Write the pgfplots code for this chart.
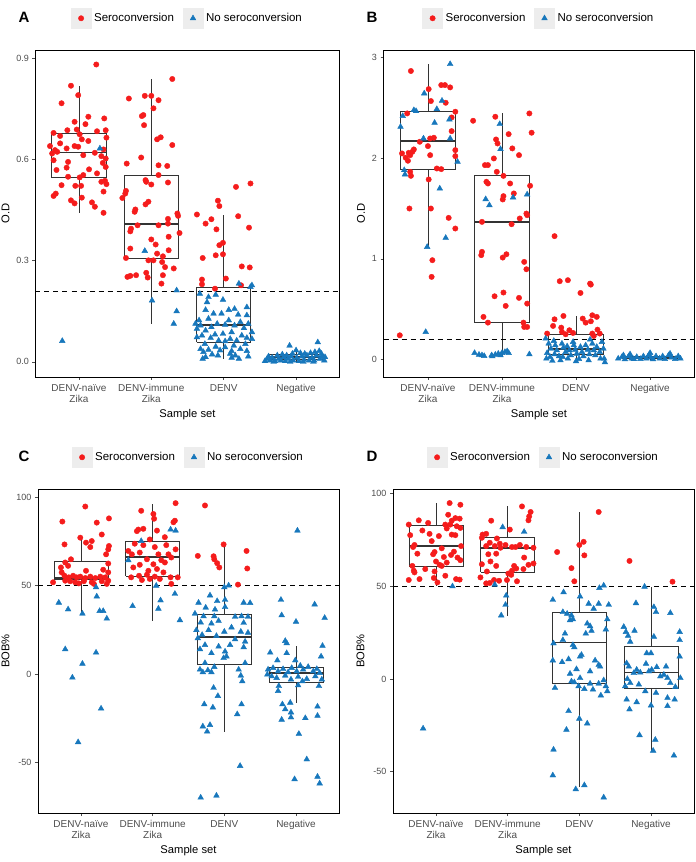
\documentclass[border=0pt]{standalone}
\usepackage{fontspec}
\setmainfont{Liberation Sans}
\usepackage{pgfplots}
\pgfplotsset{compat=1.18}
\definecolor{myred}{HTML}{F51C1C}
\definecolor{myblue}{HTML}{1777BC}
\definecolor{boxgray}{HTML}{333333}
\definecolor{legkey}{HTML}{EDEDED}
\definecolor{tickgray}{HTML}{4D4D4D}
% box: left, centre, right, lower whisker, Q1, median, Q3, upper whisker
\newcommand{\bx}[8]{%
\addplot[forget plot, boxgray, line width=0.7pt, mark=none, line join=miter] coordinates {(#1,#5)(#3,#5)(#3,#7)(#1,#7)(#1,#5)};
\addplot[forget plot, boxgray, line width=1.9pt, mark=none] coordinates {(#1,#6)(#3,#6)};
\addplot[forget plot, boxgray, line width=0.7pt, mark=none] coordinates {(#2,#7)(#2,#8)};
\addplot[forget plot, boxgray, line width=0.7pt, mark=none] coordinates {(#2,#5)(#2,#4)};
}
\pgfplotsset{
 panel/.style={scale only axis, xmin=0.4, xmax=4.6, xtick={1,2,3,4},
  xticklabels={{DENV-naïve\\Zika},{DENV-immune\\Zika},{DENV},{Negative}},
  x tick label style={align=center, font=\fontsize{10}{11}\selectfont, text=tickgray, yshift=-1pt},
  y tick label style={font=\fontsize{9}{10}\selectfont, text=tickgray},
  /pgf/number format/assume math mode=true,
  tick style={tickgray, line width=0.5pt}, tick align=outside, tickpos=left,
  major tick length=3pt, axis line style={black, line width=0.6pt},
  xlabel={Sample set}, label style={font=\fontsize{11.2}{12}\selectfont},
  legend columns=2,
  legend style={at={(0.5,1)}, anchor=south, yshift=19pt, draw=none, fill=none,
    font=\fontsize{11.5}{13}\selectfont, nodes={inner sep=2.5pt},
    /tikz/every even column/.append style={column sep=6pt}},
  legend image code/.code={
    \fill[legkey, draw=none] (-0.5pt,-10.5pt) rectangle (20.5pt,10.5pt);
    \draw[mark repeat=2,mark phase=2] plot coordinates {(0pt,0pt) (10pt,0pt) (20pt,0pt)};},
 },
 redpts/.style={only marks, mark=*, color=myred, mark size=2.7pt, mark options={draw=none, fill=myred}},
 bluepts/.style={only marks, mark=triangle*, color=myblue, mark size=3.3pt, mark options={draw=none, fill=myblue}},
}
\begin{document}
\begin{tikzpicture}
\useasboundingbox (0,0) rectangle (696pt,862pt);
\node[font=\bfseries\fontsize{15}{16}\selectfont] at (24pt,845pt) {A};
\node[font=\bfseries\fontsize{15}{16}\selectfont] at (372pt,845pt) {B};
\node[font=\bfseries\fontsize{15}{16}\selectfont] at (24pt,406pt) {C};
\node[font=\bfseries\fontsize{15}{16}\selectfont] at (372pt,406pt) {D};
% ---------------- Panel A ----------------
\begin{axis}[panel, at={(35.5pt,485pt)}, anchor=south west, width=304pt, height=327pt,
  ymin=-0.045, ymax=0.925, ytick={0,0.3,0.6,0.9}, yticklabels={0.0,0.3,0.6,0.9}, ylabel={O.D}]
\addplot[redpts] coordinates {
(1.24,0.882)(0.89,0.819)(0.99,0.791)(0.76,0.767)(1.13,0.727)(1.35,0.722)(0.94,0.712)(1.09,0.705)(0.84,0.687)(0.97,0.689)
(0.65,0.679)(1.25,0.684)(1.37,0.687)(1.38,0.665)(0.74,0.670)(1.01,0.675)(1.04,0.660)(0.74,0.648)(1.13,0.655)(0.60,0.640)
(0.94,0.640)(0.99,0.638)(0.83,0.633)(0.67,0.628)(1.34,0.630)(0.63,0.618)(0.70,0.623)(1.06,0.613)(1.22,0.620)(1.31,0.610)
(0.65,0.598)(1.37,0.603)(0.85,0.593)(1.33,0.590)(0.83,0.576)(0.69,0.569)(1.37,0.578)(1.14,0.571)(1.25,0.559)(1.06,0.554)
(0.85,0.549)(1.01,0.547)(1.36,0.537)(1.31,0.534)(1.38,0.527)(0.76,0.524)(0.95,0.522)(1.03,0.522)(0.68,0.499)(0.65,0.492)
(1.34,0.505)(1.04,0.487)(0.89,0.479)(0.94,0.470)(1.18,0.473)(1.22,0.460)(1.34,0.442)
(2.29,0.839)(1.69,0.781)(1.91,0.789)(2.00,0.789)(2.10,0.776)(2.03,0.752)(1.87,0.729)(1.89,0.732)(1.90,0.702)(2.13,0.666)
(2.08,0.660)(2.29,0.643)(1.86,0.606)(1.66,0.588)(2.10,0.583)(2.22,0.581)(2.10,0.554)(1.92,0.539)(1.93,0.534)(2.00,0.526)
(2.23,0.532)(1.65,0.507)(1.64,0.499)(1.60,0.486)(1.96,0.475)(1.92,0.467)(1.78,0.452)(1.77,0.445)(2.36,0.440)(2.37,0.433)
(2.23,0.424)(1.81,0.405)(2.10,0.405)(2.23,0.410)(1.72,0.395)(1.71,0.387)(2.39,0.382)(2.24,0.371)(2.00,0.363)(2.06,0.348)
(1.71,0.336)(2.24,0.331)(2.08,0.321)(1.65,0.308)(1.96,0.301)(2.03,0.301)(2.16,0.313)(2.15,0.296)(2.19,0.281)(2.31,0.277)
(1.93,0.264)(1.67,0.252)(1.71,0.255)(1.79,0.257)(1.95,0.250)(2.16,0.257)(2.14,0.232)
(3.37,0.529)(3.17,0.519)(2.92,0.478)(2.94,0.462)(2.63,0.437)(3.20,0.432)(2.83,0.423)(2.75,0.410)(3.35,0.398)(2.90,0.393)
(2.99,0.353)(2.94,0.346)(2.89,0.316)(2.99,0.319)(2.71,0.308)(3.25,0.283)(3.36,0.280)(3.03,0.247)(2.70,0.244)(2.70,0.230)
(2.88,0.217)(3.24,0.227)
};
\addlegendentry{Seroconversion}
\addplot[bluepts] coordinates {
(1.29,0.633)(0.77,0.062)
(1.91,0.329)(2.01,0.182)(2.35,0.212)(2.35,0.150)(2.31,0.113)
(3.21,0.232)(3.39,0.227)(3.37,0.222)(2.67,0.202)(2.89,0.199)(2.79,0.192)(2.99,0.184)(2.77,0.177)(3.32,0.162)(3.15,0.157)
(2.75,0.154)(3.07,0.154)(2.86,0.143)(2.97,0.143)(3.20,0.140)(3.32,0.138)(2.79,0.128)(2.66,0.123)(2.61,0.113)(3.07,0.123)
(3.23,0.118)(3.34,0.113)(2.68,0.108)(2.91,0.113)(3.02,0.110)(3.15,0.108)(2.63,0.098)(2.83,0.103)(3.28,0.100)(2.75,0.093)
(3.39,0.088)(2.99,0.083)(3.11,0.088)(2.88,0.081)(2.70,0.078)(3.25,0.078)(3.32,0.071)(3.09,0.068)(2.63,0.073)(2.82,0.071)
(3.39,0.068)(2.93,0.063)(3.02,0.061)(3.18,0.063)(2.74,0.053)(3.14,0.048)(3.30,0.053)(2.89,0.045)(3.02,0.043)(2.68,0.038)
(2.79,0.036)(3.23,0.038)(2.95,0.034)(3.11,0.032)(2.72,0.029)(3.32,0.032)(3.09,0.024)(2.84,0.022)(3.16,0.019)(2.75,0.014)
(2.92,0.019)(3.34,0.016)(2.71,0.009)(3.11,0.012)(3.21,0.009)
(3.60,0.009)(3.64,0.004)(3.67,0.012)(3.71,0.002)(3.76,0.009)(3.79,0.004)(3.83,0.014)(3.85,0.002)(3.89,0.009)(3.91,0.048)
(3.93,0.016)(3.96,0.004)(4.00,0.034)(4.01,0.012)(4.04,0.002)(4.08,0.016)(4.11,0.006)(4.15,0.019)(4.18,0.004)(4.22,0.012)
(4.25,0.004)(4.28,0.019)(4.30,0.058)(4.32,0.032)(4.33,0.009)(4.36,0.016)(4.39,0.004)(3.62,0.016)(3.74,0.019)(3.81,0.022)
(3.87,0.019)(3.95,0.024)(4.06,0.026)(4.12,0.024)(4.20,0.026)(4.26,0.029)(4.35,0.024)(3.69,0.000)(3.92,0.000)(4.10,0.000)
(4.24,0.000)(3.57,0.002)(4.40,0.014)
};
\addlegendentry{No seroconversion}
\bx{0.625}{1}{1.375}{0.442}{0.546}{0.621}{0.677}{0.818}
\bx{1.625}{2}{2.375}{0.113}{0.308}{0.410}{0.554}{0.839}
\bx{2.625}{3}{3.375}{0.009}{0.059}{0.108}{0.220}{0.437}
\bx{3.625}{4}{4.375}{0.000}{0.008}{0.014}{0.022}{0.040}
\addplot[forget plot, black, line width=0.7pt, dash pattern=on 5pt off 4pt] coordinates {(0.4,0.21) (4.6,0.21)};
\end{axis}
% ---------------- Panel B ----------------
\begin{axis}[panel, at={(383.5pt,485pt)}, anchor=south west, width=311pt, height=327pt,
  ymin=-0.176, ymax=3.077, ytick={0,1,2,3}, yticklabels={0,1,2,3}, ylabel={O.D}]
\addplot[redpts] coordinates {
(0.77,2.868)(1.18,2.728)(1.23,2.728)(1.30,2.705)(1.01,2.688)(1.04,2.569)(1.24,2.552)(0.72,2.446)(1.37,2.463)(1.32,2.406)
(1.32,2.270)(1.03,2.197)(1.08,2.204)(0.89,2.164)(1.00,2.121)(1.37,2.081)(0.81,2.088)(0.79,2.064)(0.74,2.054)(0.65,2.048)
(0.76,2.031)(1.03,2.031)(1.37,2.021)(0.70,2.005)(0.73,1.975)(1.12,1.898)(1.18,1.892)(0.76,1.865)(0.77,1.825)(1.01,1.789)
(0.75,1.500)(1.04,1.500)(1.28,1.407)(1.37,1.301)(1.06,0.986)(1.05,0.820)(0.62,0.239)
(1.61,2.373)(1.91,2.413)(2.37,2.446)(2.40,2.254)(2.09,2.240)(1.92,2.187)(1.94,2.147)(2.14,2.098)(2.23,2.031)(1.89,1.998)
(1.77,1.932)(1.81,1.932)(1.93,1.865)(2.02,1.825)(1.79,1.766)(1.81,1.749)(2.11,1.749)(2.38,1.726)(2.16,1.650)(2.02,1.623)
(2.01,1.590)(2.33,1.450)(2.34,1.434)(2.24,1.401)(1.73,1.367)(2.13,1.344)(1.73,1.069)(1.72,1.036)(2.06,1.045)(2.01,1.012)
(2.30,0.969)(2.33,0.896)(1.90,0.627)(2.02,0.664)(2.23,0.611)(2.05,0.531)(2.34,0.554)(1.75,0.422)(1.81,0.365)(2.29,0.365)
(2.30,0.322)(2.34,0.322)
(2.71,1.225)(2.78,0.777)(2.89,0.787)(3.19,0.753)(3.20,0.743)(3.06,0.660)(2.83,0.431)(3.22,0.438)(3.28,0.422)(2.71,0.398)
(3.09,0.405)(3.20,0.378)(3.13,0.365)(2.69,0.332)(2.80,0.315)(3.29,0.295)(2.91,0.289)(2.81,0.272)(2.61,0.256)(2.96,0.262)
(2.86,0.249)(3.22,0.256)(3.32,0.256)(3.24,0.232)
};
\addlegendentry{Seroconversion}
\addplot[bluepts] coordinates {
(1.30,2.937)(0.95,2.645)(1.19,2.572)(0.81,2.479)(0.84,2.469)(0.66,2.420)(0.63,2.313)(1.12,2.489)(1.09,2.353)(1.29,2.386)
(0.94,2.197)(1.30,2.197)(1.40,1.965)(0.68,1.882)(0.69,1.839)(1.16,1.699)(1.24,1.208)(0.99,1.118)(0.97,0.272)
(1.97,2.340)(1.98,2.091)(1.78,1.593)(1.83,1.533)(2.15,1.610)(2.34,1.640)
(1.63,0.063)(1.69,0.046)(1.76,0.033)(1.86,0.040)(1.91,0.046)(1.95,0.056)(2.00,0.063)(2.04,0.073)(2.07,0.080)(2.09,0.063)
(2.37,0.050)(1.87,0.030)(1.73,0.040)(1.98,0.040)
(2.59,0.206)(2.63,0.156)(2.66,0.106)(2.61,0.063)(2.65,0.023)(2.60,0.007)(2.72,0.139)(2.74,0.090)(2.71,0.050)(2.77,0.030)
(2.81,0.156)(2.83,0.116)(2.86,0.073)(2.82,0.023)(2.88,0.129)(2.91,0.090)(2.93,0.040)(2.89,0.007)(2.97,0.139)(2.99,0.096)
(3.01,0.056)(3.04,0.003)(3.06,0.123)(3.08,0.073)(3.10,0.030)(3.13,0.139)(3.16,0.096)(3.18,0.050)(3.22,0.156)(3.24,0.090)
(3.26,0.040)(3.28,0.123)(3.32,0.073)(3.35,0.173)(3.37,0.106)(3.38,0.007)(3.39,-0.030)(3.33,0.007)(3.17,-0.010)(3.00,-0.020)
(2.79,-0.010)(2.68,-0.015)(2.96,0.173)(2.70,0.183)(3.19,0.196)
(3.57,0.007)(3.62,0.023)(3.66,0.000)(3.71,0.030)(3.75,0.007)(3.78,0.002)(3.82,0.023)(3.87,0.003)(3.91,0.030)(3.95,0.007)
(3.98,0.040)(4.01,0.017)(4.04,0.000)(4.08,0.030)(4.13,0.007)(4.17,0.030)(4.20,0.003)(4.25,0.040)(4.29,0.017)(4.34,0.003)
(4.38,0.030)(4.41,0.007)(3.73,0.050)(4.00,0.063)(4.27,0.056)(3.64,0.040)
};
\addlegendentry{No seroconversion}
\bx{0.625}{1}{1.375}{1.118}{1.892}{2.171}{2.463}{2.934}
\bx{1.625}{2}{2.375}{0.030}{0.365}{1.367}{1.832}{2.446}
\bx{2.625}{3}{3.375}{0.000}{0.050}{0.100}{0.245}{0.430}
\bx{3.625}{4}{4.375}{0.000}{0.007}{0.020}{0.030}{0.050}
\addplot[forget plot, black, line width=0.7pt, dash pattern=on 5pt off 4pt] coordinates {(0.4,0.2) (4.6,0.2)};
\end{axis}
% ---------------- Panel C ----------------
\begin{axis}[panel, at={(38pt,49pt)}, anchor=south west, width=301pt, height=324pt,
  ymin=-78.5, ymax=104.5, ytick={-50,0,50,100}, yticklabels={-50,0,50,100}, ylabel={BOB\%}]
\addplot[redpts] coordinates {
(1.06,94.6)(0.74,86.1)(1.22,85.5)(1.39,87.9)(1.29,78.8)(0.99,77.0)(0.77,73.2)(1.07,74.2)(1.15,75.1)(1.13,71.7)
(1.39,72.3)(1.38,70.4)(1.35,67.6)(0.86,64.8)(0.78,63.0)(0.82,61.1)(1.38,62.4)(0.72,60.2)(1.07,58.3)(1.31,58.9)
(0.73,57.4)(1.38,57.4)(0.77,55.5)(0.83,54.6)(0.89,55.5)(0.94,54.6)(0.99,55.0)(1.06,54.2)(1.13,55.0)(1.20,54.2)
(1.27,55.0)(1.34,54.6)(0.78,52.7)(0.85,52.4)(0.92,51.8)(1.04,52.4)(1.15,51.8)(1.29,52.4)(1.38,52.7)(0.61,51.8)
(0.97,51.2)(1.18,50.9)(1.36,50.9)
(2.32,96.5)(1.84,92.2)(2.01,90.4)(2.02,87.7)(2.29,85.7)(2.31,86.6)(1.80,81.6)(1.87,82.0)(1.78,80.7)(2.06,81.0)
(2.17,77.3)(1.96,76.0)(1.75,73.6)(1.87,72.8)(2.03,71.7)(2.19,72.8)(1.66,69.5)(1.71,67.6)(1.82,68.6)(2.08,67.6)
(2.22,67.6)(2.32,70.4)(1.92,64.8)(2.01,62.0)(2.12,64.3)(2.17,63.0)(2.26,65.8)(1.82,61.7)(1.73,60.2)(1.94,58.3)
(2.06,59.3)(2.15,57.4)(1.81,55.5)(1.70,54.6)(1.92,56.1)(2.03,55.0)(2.25,54.6)(2.35,54.6)(2.10,53.7)(2.26,50.9)
(1.96,53.7)(1.85,53.1)
(2.73,95.2)(2.99,73.2)(2.63,66.7)(2.85,66.5)(2.86,64.8)(2.90,62.6)(2.93,60.2)(3.31,69.5)(3.32,59.6)(3.19,50.5)
};
\addlegendentry{Seroconversion}
\addplot[bluepts] coordinates {
(1.21,49.0)(0.69,40.3)(0.82,36.5)(1.22,43.8)(1.02,34.1)(1.26,35.6)(1.31,35.6)(1.36,31.3)(0.78,14.0)(1.21,12.1)
(1.02,5.8)(0.88,-2.0)(1.28,-19.5)(0.96,-38.5)
(2.25,81.6)(2.32,81.0)(1.84,75.1)(1.66,64.3)(2.05,49.9)(2.11,41.6)(2.08,36.9)(1.72,38.4)(2.31,45.3)(2.38,30.4)
(3.00,49.0)(3.06,50.0)(2.80,44.4)(2.64,40.3)(2.90,41.2)(3.01,41.9)(3.27,40.3)(3.36,40.1)(2.74,37.5)(2.87,36.4)
(3.01,37.8)(2.59,34.1)(2.71,32.6)(2.86,32.6)(3.15,32.3)(3.24,32.6)(3.33,32.3)(2.67,29.1)(2.82,28.5)(2.92,30.0)
(3.27,28.9)(2.61,24.8)(2.78,24.8)(3.00,23.9)(3.10,26.3)(3.23,23.9)(3.33,23.3)(2.69,22.1)(2.89,21.5)(2.63,20.2)
(3.15,19.6)(3.29,18.3)(2.73,16.4)(2.92,15.5)(3.08,16.4)(2.66,14.0)(3.27,15.1)(3.01,12.7)(2.82,11.8)(3.03,9.9)
(2.99,9.0)(2.73,6.2)(3.29,6.2)(2.66,2.5)(2.77,2.1)(2.86,4.0)(2.70,1.0)(2.82,1.0)(3.20,2.5)(3.23,-0.9)
(3.25,-4.1)(2.85,-7.8)(2.91,-12.4)(2.72,-17.1)(2.84,-18.9)(3.24,-17.1)(3.18,-22.7)(2.70,-29.6)(2.80,-28.8)(2.76,-32.5)
(3.22,-51.9)(2.67,-69.8)(2.89,-68.7)
(4.02,81.0)(3.79,41.9)(4.26,39.3)(3.80,33.2)(4.40,31.7)(4.00,29.5)(3.85,18.7)(3.87,17.4)(4.37,15.9)(3.64,12.1)
(4.35,9.9)(3.74,7.7)(3.87,11.8)(3.99,7.7)(3.61,2.5)(3.68,3.4)(3.75,1.5)(3.82,2.8)(3.89,1.0)(3.94,3.4)
(4.01,1.5)(4.06,4.7)(4.10,2.5)(4.17,4.0)(4.24,1.5)(4.29,2.8)(4.33,0.6)(3.66,-1.3)(3.73,-2.2)(3.85,-0.9)
(3.93,-3.1)(4.03,-1.6)(4.09,-4.1)(4.15,-2.8)(4.27,-1.3)(4.36,-3.1)(3.60,-0.3)(3.76,-6.8)(4.03,-6.4)(4.32,-6.8)
(3.75,-9.6)(3.92,-16.2)(3.81,-17.1)(3.85,-19.9)(3.93,-21.7)(3.80,-25.8)(3.93,-24.5)(4.13,-24.9)(4.30,-18.4)(4.30,-23.6)
(4.04,-33.8)(4.15,-48.2)(3.98,-59.4)(4.30,-58.0)(4.33,-61.8)
};
\addlegendentry{No seroconversion}
\bx{0.625}{1}{1.375}{34.1}{53.7}{54.4}{63.5}{77.0}
\bx{1.625}{2}{2.375}{30.0}{55.2}{66.3}{74.7}{96.1}
\bx{2.625}{3}{3.375}{-33.0}{5.3}{20.7}{33.7}{73.2}
\bx{3.625}{4}{4.375}{-16.2}{-4.6}{0.6}{4.0}{15.9}
\addplot[forget plot, black, line width=0.7pt, dash pattern=on 5pt off 4pt] coordinates {(0.4,50) (4.6,50)};
\end{axis}
% ---------------- Panel D ----------------
\begin{axis}[panel, at={(393pt,49pt)}, anchor=south west, width=301pt, height=324pt,
  ymin=-72.3, ymax=102.5, ytick={-50,0,50,100}, yticklabels={-50,0,50,100}, ylabel={BOB\%}]
\addplot[redpts] coordinates {
(1.19,94.9)(1.34,94.0)(1.17,88.6)(0.76,85.6)(0.89,84.2)(1.27,86.8)(1.33,86.5)(1.22,85.4)(0.62,83.3)(1.13,83.3)
(1.20,83.3)(1.29,82.4)(1.15,81.2)(1.34,81.5)(0.81,80.1)(0.91,78.3)(0.64,77.6)(1.04,77.1)(1.22,77.9)(1.27,77.6)
(0.70,72.3)(0.68,71.2)(0.94,74.4)(1.35,71.7)(1.08,70.5)(0.74,67.6)(0.96,67.3)(0.98,68.5)(1.25,68.7)(1.11,65.8)
(1.30,65.5)(1.21,66.9)(1.34,64.1)(1.00,63.4)(1.15,62.8)(1.05,61.6)(0.67,61.0)(1.08,61.0)(0.69,58.4)(0.70,57.5)
(0.85,59.3)(0.98,58.0)(1.13,55.7)(0.97,54.5)(0.62,53.4)(0.77,53.9)(1.28,53.9)(1.33,53.6)(1.02,52.1)
(2.20,93.1)(2.32,90.1)(2.30,87.7)(2.29,85.6)(1.77,85.4)(2.03,80.6)(1.65,77.9)(1.70,78.3)(1.64,76.2)(1.85,75.8)
(1.75,73.5)(1.89,73.0)(1.70,71.7)(1.97,72.3)(2.06,71.2)(2.17,72.3)(2.26,71.2)(2.36,70.8)(1.82,71.7)(1.90,70.8)
(2.11,71.2)(1.73,67.3)(1.84,67.6)(2.23,65.5)(1.64,61.9)(1.76,63.4)(1.84,61.0)(2.29,61.6)(2.36,62.3)(2.09,61.0)
(2.12,59.6)(2.06,58.4)(2.22,59.3)(1.71,58.0)(2.01,56.9)(2.05,56.2)(1.62,54.8)(1.81,53.4)(1.88,53.0)(1.99,53.4)
(2.13,52.7)(1.70,51.6)(1.75,51.8)
(3.27,90.1)(2.69,68.5)(3.00,72.3)(3.06,74.0)(3.07,66.7)(2.89,59.8)(2.93,52.7)
(3.70,63.7)(4.30,52.5)
};
\addlegendentry{Seroconversion}
\addplot[bluepts] coordinates {
(1.23,50.0)(0.82,-26.7)
(1.93,81.9)(2.23,79.4)(1.82,50.9)(1.98,45.0)(1.97,40.0)(1.91,34.3)
(3.34,50.4)(3.28,49.1)(2.78,46.8)(2.63,42.7)(3.01,44.5)(3.13,40.6)(3.27,40.6)(3.41,40.0)(3.20,37.9)(2.77,36.1)
(2.83,35.2)(2.89,34.3)(2.91,32.2)(2.87,31.7)(3.39,32.2)(3.11,29.9)(3.15,28.5)(3.17,26.0)(3.09,24.5)(3.37,26.7)
(2.80,24.5)(2.64,19.2)(2.77,21.0)(2.91,18.3)(2.93,17.1)(3.03,13.0)(3.01,12.1)(2.63,10.0)(2.76,9.1)(2.85,10.7)
(3.22,10.0)(3.27,7.6)(3.29,6.7)(2.87,2.8)(2.96,5.3)(3.15,4.1)(3.01,0.5)(2.89,-1.3)(2.93,-1.8)(2.99,-3.9)
(3.15,-2.5)(3.27,-2.5)(3.34,-0.7)(3.37,-3.9)(2.66,-4.8)(3.07,-5.4)(3.19,-5.7)(3.39,-6.6)(3.30,-8.9)(2.85,-17.3)
(3.00,-21.4)(3.11,-24.0)(2.82,-27.4)(2.64,-38.1)(2.63,-52.0)(2.95,-59.5)(3.07,-57.3)(3.34,-63.9)
(3.91,49.8)(3.79,40.9)(4.04,38.8)(4.07,36.1)(4.27,35.6)(3.62,28.1)(3.65,25.4)(3.77,26.0)(4.40,25.4)(3.68,23.3)
(4.40,21.0)(4.04,22.8)(3.71,20.1)(3.94,13.9)(4.00,13.9)(4.40,12.1)(3.66,8.5)(3.69,6.7)(3.80,5.0)(3.93,8.2)
(4.08,6.4)(4.21,6.7)(3.76,3.2)(3.85,3.5)(3.97,4.1)(4.01,5.0)(4.13,1.4)(4.18,2.3)(4.23,0.5)(4.41,0.5)
(3.67,0.0)(3.71,-2.2)(3.83,-3.0)(4.27,-2.2)(4.34,-4.3)(3.64,-3.9)(3.92,-6.6)(4.07,-7.5)(4.23,-10.2)(3.66,-11.1)
(3.80,-12.5)(4.33,-11.1)(4.00,-14.3)(3.70,-16.4)(4.23,-14.6)(3.84,-30.3)(4.06,-32.8)(4.03,-38.7)(4.32,-41.3)
};
\addlegendentry{No seroconversion}
\bx{0.625}{1}{1.375}{50.4}{61.0}{71.7}{82.8}{94.9}
\bx{1.625}{2}{2.375}{33.8}{57.8}{70.5}{76.5}{93.1}
\bx{2.625}{3}{3.375}{-58.2}{-2.2}{19.7}{36.1}{90.1}
\bx{3.625}{4}{4.375}{-38.7}{-4.8}{3.5}{17.8}{49.8}
\addplot[forget plot, black, line width=0.7pt, dash pattern=on 5pt off 4pt] coordinates {(0.4,50) (4.6,50)};
\end{axis}
\end{tikzpicture}
\end{document}
